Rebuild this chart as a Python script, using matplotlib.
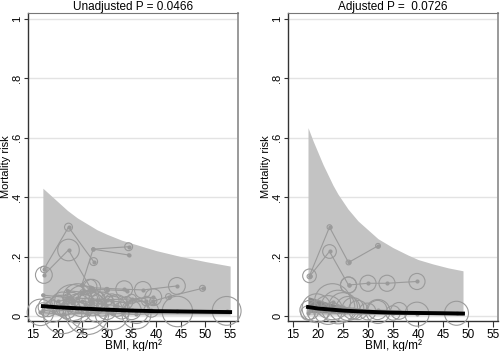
import numpy as np
import matplotlib.pyplot as plt

plt.rcParams['font.family'] = ['Liberation Sans', 'DejaVu Sans']

# ---- left panel (unadjusted) ----
l_band_bmi = [17, 18, 19, 20, 22, 24, 26, 28, 30, 33, 36, 40, 45, 50, 55]
l_band_hi = [0.43, 0.415, 0.40, 0.385, 0.355, 0.33, 0.31, 0.29, 0.275,
             0.255, 0.24, 0.22, 0.20, 0.183, 0.168]
l_band_lo = [0.003] * len(l_band_bmi)
l_fit_bmi = [17, 20, 25, 30, 35, 40, 45, 50, 55]
l_fit = [0.033, 0.029, 0.025, 0.021, 0.018, 0.016, 0.015, 0.014, 0.013]

l_a_bmi = [17.2, 22.2, 27.3]
l_a_risk = [0.157, 0.299, 0.183]
l_a_w = [2.7, 3.3, 3.3]
l_b_bmi = [17.2, 22.2, 26.5]
l_b_risk = [0.138, 0.222, 0.099]
l_b_w = [7, 9, 6]
l_c_bmi = [24.9, 27.2, 34.4]
l_c_risk = [0.104, 0.225, 0.233]
l_c_w = [1, 1, 3.3]
l_c2_bmi = [27.2, 34.4]
l_c2_risk = [0.225, 0.205]
l_c2_w = [1, 1]
l_d_bmi = [27, 33.5, 37.3, 44.2]
l_d_risk = [0.095, 0.09, 0.0875, 0.101]
l_d_w = [7, 7, 7, 7]
l_e_bmi = [22, 25, 27, 30, 34]
l_e_risk = [0.085, 0.08, 0.09, 0.088, 0.085]
l_e_w = [1, 2, 2, 2, 1]
l_f_bmi = [17, 22, 24, 27, 30, 35, 39.4]
l_f_risk = [0.07, 0.062, 0.06, 0.057, 0.055, 0.057, 0.063]
l_f_w = [1, 3, 12, 6, 5, 4, 7]
l_g_bmi = [39.4, 42.5, 49.4]
l_g_risk = [0.05, 0.065, 0.093]
l_g_w = [3, 2.5, 2.5]
l_h_bmi = [16.5, 21, 26, 31, 36, 44.3, 54.3]
l_h_risk = [0.012, 0.005, 0.01, 0.01, 0.005, 0.015, 0.017]
l_h_w = [11, 16, 18, 14, 12, 12.7, 12]
l_i_bmi = [18, 21, 23, 25, 27, 29, 32, 35]
l_i_risk = [0.03, 0.04, 0.045, 0.05, 0.045, 0.04, 0.035, 0.02]
l_i_w = [8, 10, 15, 13, 11, 10, 9, 8]
l_j_bmi = [20, 23, 25.5, 28, 31, 34, 38]
l_j_risk = [0.05, 0.055, 0.04, 0.055, 0.05, 0.045, 0.05]
l_j_w = [5, 6, 8, 7, 6, 5, 4]
l_k_bmi = [17, 19, 22, 24, 26, 28, 30, 33, 36, 39]
l_k_risk = [0.02, 0.015, 0.02, 0.025, 0.02, 0.015, 0.02, 0.018, 0.015, 0.02]
l_k_w = [6, 9, 7, 12, 16, 9, 8, 7, 10, 6]

# ---- right panel (adjusted) ----
r_band_bmi = [18, 19, 20, 21, 22, 23, 24, 25, 26, 28, 30, 32, 35, 38, 40,
              43, 46, 49]
r_band_hi = [0.634, 0.59, 0.55, 0.51, 0.475, 0.44, 0.41, 0.385, 0.36, 0.32,
             0.29, 0.26, 0.23, 0.205, 0.19, 0.175, 0.162, 0.152]
r_band_lo = [0.003] * len(r_band_bmi)
r_ci_bmi = [18, 20, 22, 25, 28, 32, 40, 49]
r_ci_hi = [0.065, 0.055, 0.045, 0.033, 0.026, 0.021, 0.017, 0.015]
r_ci_lo = [0.012, 0.011, 0.01, 0.008, 0.007, 0.006, 0.005, 0.004]
r_fit_bmi = [18, 20, 25, 30, 35, 40, 45, 49]
r_fit = [0.03, 0.025, 0.018, 0.014, 0.011, 0.01, 0.009, 0.008]

r_a_bmi = [18.3, 22.3, 26.1, 32.0]
r_a_risk = [0.135, 0.299, 0.18, 0.236]
r_a_w = [5.7, 2, 2, 2]
r_b_bmi = [18.3, 22.3, 26.1]
r_b_risk = [0.133, 0.217, 0.104]
r_b_w = [2, 5.7, 6.7]
r_c_bmi = [26.1, 30, 33.8, 39.8]
r_c_risk = [0.104, 0.11, 0.11, 0.116]
r_c_w = [6.7, 6.7, 6.7, 6.7]
r_d_bmi = [18.3, 19.7, 22.9, 25, 27, 29.9, 31.9, 36.2, 39.8, 47.7]
r_d_risk = [0.02, 0.026, 0.048, 0.03, 0.025, 0.015, 0.02, 0.017, 0.006, 0.009]
r_d_w = [8, 12, 15, 12, 9, 7, 8, 7, 10, 10]
r_e_bmi = [18, 20, 22, 24, 26, 28, 32, 35]
r_e_risk = [0.01, 0.015, 0.02, 0.03, 0.025, 0.02, 0.015, 0.01]
r_e_w = [6, 9, 12, 14, 10, 8, 10, 6]

left_studies = [(l_a_bmi, l_a_risk, l_a_w), (l_b_bmi, l_b_risk, l_b_w),
                (l_c_bmi, l_c_risk, l_c_w), (l_c2_bmi, l_c2_risk, l_c2_w),
                (l_d_bmi, l_d_risk, l_d_w), (l_e_bmi, l_e_risk, l_e_w),
                (l_f_bmi, l_f_risk, l_f_w), (l_g_bmi, l_g_risk, l_g_w),
                (l_h_bmi, l_h_risk, l_h_w), (l_i_bmi, l_i_risk, l_i_w),
                (l_j_bmi, l_j_risk, l_j_w), (l_k_bmi, l_k_risk, l_k_w)]
right_studies = [(r_a_bmi, r_a_risk, r_a_w), (r_b_bmi, r_b_risk, r_b_w),
                 (r_c_bmi, r_c_risk, r_c_w), (r_d_bmi, r_d_risk, r_d_w),
                 (r_e_bmi, r_e_risk, r_e_w)]

CIRC = '#9a9a9a'


def draw_panel(ax, band, fit, studies, title, xlim, ci=None):
    ax.set_xlim(*xlim)
    ax.set_ylim(-0.017, 1.02)
    for y in [0, 0.2, 0.4, 0.6, 0.8, 1.0]:
        ax.axhline(y, color='#e3e3e3', lw=1.0, zorder=0)
    ax.fill_between(band[0], band[2], band[1], color='#c3c3c3', lw=0, zorder=1)
    if ci is not None:
        ax.fill_between(ci[0], ci[2], ci[1], color='#8a8a8a', lw=0, zorder=2)
    for bmi, risk, w in studies:
        ax.plot(bmi, risk, color=CIRC, lw=0.8, zorder=3, marker='o', ms=2,
                mfc=CIRC, mec=CIRC)
        # bubble radius (px) -> marker area in pt^2
        s = (2.4 * np.array(w) * 72 / 100.0) ** 2
        ax.scatter(bmi, risk, s=s, facecolors='none', edgecolors=CIRC,
                   linewidths=0.8, zorder=3, clip_on=False)
    ax.plot(fit[0], fit[1], color='black', lw=2.8, zorder=4)
    ax.set_title(title, fontsize=8.5, pad=2)
    ax.set_xticks(range(15, 56, 5))
    ax.set_yticks([0, 0.2, 0.4, 0.6, 0.8, 1.0])
    ax.set_yticklabels(['0', '.2', '.4', '.6', '.8', '1'], rotation=90,
                       va='center')
    ax.tick_params(axis='x', labelsize=8.5, length=4, width=0.8, pad=1.5,
                   color='#333333')
    ax.tick_params(axis='y', labelsize=8, length=3, width=0.8, pad=1,
                   color='#333333')
    ax.set_xlabel('BMI, kg/m²', fontsize=8.5, labelpad=-1)
    ax.set_ylabel('Mortality risk', fontsize=8, labelpad=1)
    for side in ['left', 'bottom']:
        ax.spines[side].set_color('#333333')
        ax.spines[side].set_linewidth(1.0)
    ax.spines['top'].set_color('#777777')
    ax.spines['right'].set_color('#9a9a9a')
    ax.spines['right'].set_linewidth(1.4)


fig = plt.figure(figsize=(5.0, 3.51), dpi=100)
ax1 = fig.add_axes([0.056, 0.0855, 0.42, 0.8775])
ax2 = fig.add_axes([0.576, 0.0855, 0.42, 0.8775])

draw_panel(ax1, (l_band_bmi, l_band_hi, l_band_lo), (l_fit_bmi, l_fit),
           left_studies, 'Unadjusted P = 0.0466', (13.98, 56.6))
draw_panel(ax2, (r_band_bmi, r_band_hi, r_band_lo), (r_fit_bmi, r_fit),
           right_studies, 'Adjusted P =  0.0726', (14.0, 56.0),
           ci=(r_ci_bmi, r_ci_hi, r_ci_lo))

fig.savefig('out.png', dpi=100)
